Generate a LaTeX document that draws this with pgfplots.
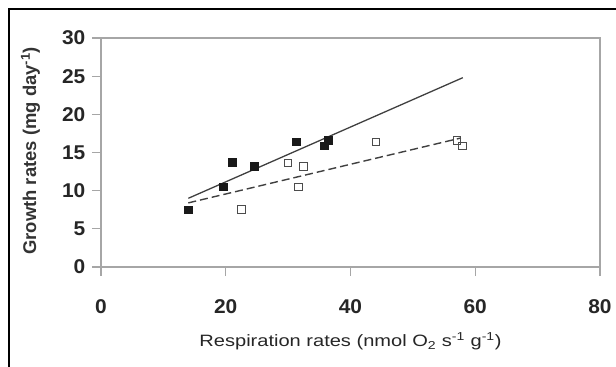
\documentclass[border=0pt]{standalone}
\usepackage{fontspec}
\setmainfont{Liberation Sans}
\usepackage{pgfplots}
\pgfplotsset{compat=1.18}
\definecolor{axgray}{HTML}{A6A6A6}
\definecolor{linegray}{HTML}{404040}
\begin{document}
\begin{tikzpicture}
\path[use as bounding box] (0bp,0bp) rectangle (616bp,367bp);
\begin{scope}
\clip (0bp,0bp) rectangle (616bp,367bp);
\draw[line width=2.4bp, black] (9bp,-10bp) -- (9bp,358bp) -- (630bp,358bp);
\end{scope}
\begin{axis}[
  at={(101bp,100bp)}, anchor=south west,
  scale only axis, width=499bp, height=229bp,
  xmin=0, xmax=80, ymin=0, ymax=30,
  xtick={0,20,40,60,80}, ytick={0,5,10,15,20,25,30},
  axis line style={axgray, line width=1.3bp},
  tick style={axgray, line width=1.3bp},
  tick align=outside, major tick length=9bp,
  xtick pos=bottom, ytick pos=left,
  /pgf/number format/assume math mode=true,
  ticklabel style={font=\fontsize{20}{22}\selectfont\bfseries, text=black!85},
  xticklabel style={yshift=-20bp, xscale=1.05},
  yticklabel style={xshift=-3bp, xscale=1.05},
  xlabel={Respiration rates (nmol O\textsubscript{2} s\textsuperscript{-1} g\textsuperscript{-1})},
  xlabel style={at={(axis description cs:0.5,-0.349)}, anchor=base, font=\fontsize{16.5}{18}\selectfont, text=black!85, xscale=1.22},
  ylabel={Growth rates (mg day\textsuperscript{-1})},
  ylabel style={at={(axis description cs:-0.141,0.507)}, anchor=center, font=\fontsize{18.5}{20}\selectfont\bfseries, text=black!80},
  clip=false,
]
% regression lines
\addplot[linegray, line width=1.3bp] coordinates {(14,9.0) (58,24.8)};
\addplot[linegray, line width=1.4bp, dash pattern=on 8bp off 4bp] coordinates {(14,8.4) (57.7,16.9)};
% filled squares
\addplot[only marks, mark=square*, mark size=3.8bp, mark options={fill=black!90, draw=black!90}] coordinates {
(14.0,7.5) (19.6,10.5) (21.0,13.7) (24.6,13.2) (31.3,16.4) (35.8,15.9) (36.4,16.6)
};
% open squares
\addplot[only marks, mark=square, mark size=3.8bp, mark options={draw=black!70, fill=white, line width=1bp}] coordinates {
(22.5,7.5) (30.0,13.6) (32.5,13.2) (31.7,10.5) (44.1,16.4) (57.1,16.6) (58.0,15.85)
};
\end{axis}
\end{tikzpicture}
\end{document}
